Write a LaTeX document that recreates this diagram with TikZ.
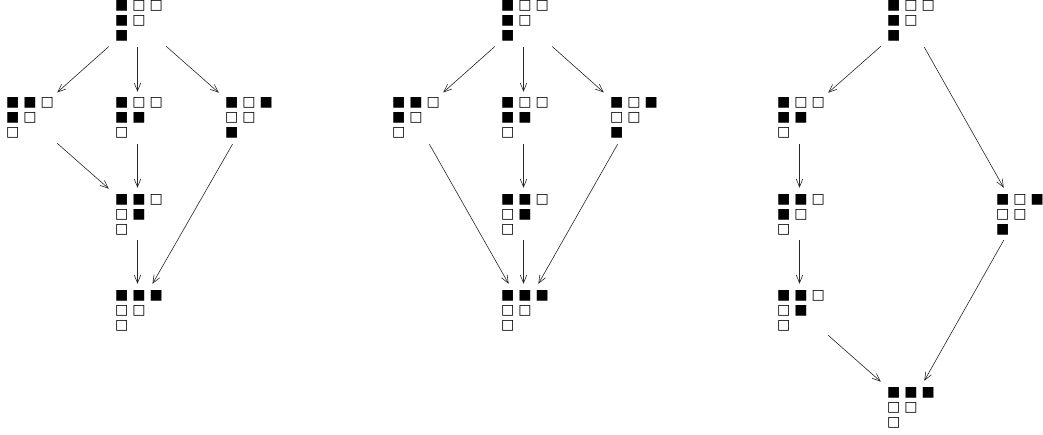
\documentclass[tikz,border=0pt]{standalone}
\usepackage{fontspec}
\newfontfamily\symfont{DejaVu Sans}
\usetikzlibrary{arrows.meta}

% one cell of a tableau, 1 = filled
\newcommand{\sq}[1]{\makebox[17.3pt][l]{\ifnum#1=1 ■\else □\fi}}
% a staircase tableau, rows of 3, 2 and 1 cells
\newcommand{\tabl}[6]{\parbox[c][40pt][t]{45pt}{\symfont\fontsize{14pt}{15pt}\selectfont
  \sq{#1}\sq{#2}\sq{#3}\\\sq{#4}\sq{#5}\\\sq{#6}}}

\tikzset{
  tab/.style={inner sep=0pt, minimum width=57pt, minimum height=52pt},
  cover/.style={line width=0.6pt, black!85, -{Straight Barb[length=8pt,width=6.5pt]}}
}

\begin{document}
\begin{tikzpicture}[x=1pt,y=1pt]
\useasboundingbox (0,0) rectangle (1043,-434);
%%%%%%%%%%%%%%%%%%%
% first poset

\node[tab] (a1) at (137.5,-21) {\tabl{1}{0}{0}{1}{0}{1}};
\node[tab] (a2) at (28.5,-118) {\tabl{1}{1}{0}{1}{0}{0}};
\node[tab] (a3) at (137.5,-118) {\tabl{1}{0}{0}{1}{1}{0}};
\node[tab] (a4) at (247.5,-118) {\tabl{1}{0}{1}{0}{0}{1}};
\node[tab] (a5) at (137.5,-214) {\tabl{1}{1}{0}{0}{1}{0}};
\node[tab] (a6) at (137.5,-310) {\tabl{1}{1}{1}{0}{0}{0}};

\draw[cover] (a1) -- (a2);
\draw[cover] (a1) -- (a3);
\draw[cover] (a1) -- (a4);
\draw[cover] (a2) -- (a5);
\draw[cover] (a3) -- (a5);
\draw[cover] (a5) -- (a6);
\draw[cover] (a4) -- (a6);

%%%%%%%%%%%%%%%%%%%
% second poset

\node[tab] (b1) at (523.5,-21) {\tabl{1}{0}{0}{1}{0}{1}};
\node[tab] (b2) at (414.5,-118) {\tabl{1}{1}{0}{1}{0}{0}};
\node[tab] (b3) at (523.5,-118) {\tabl{1}{0}{0}{1}{1}{0}};
\node[tab] (b4) at (632.5,-118) {\tabl{1}{0}{1}{0}{0}{1}};
\node[tab] (b5) at (523.5,-214) {\tabl{1}{1}{0}{0}{1}{0}};
\node[tab] (b6) at (523.5,-310) {\tabl{1}{1}{1}{0}{0}{0}};

\draw[cover] (b1) -- (b2);
\draw[cover] (b1) -- (b3);
\draw[cover] (b1) -- (b4);
\draw[cover] (b2) -- (b6);
\draw[cover] (b3) -- (b5);
\draw[cover] (b5) -- (b6);
\draw[cover] (b4) -- (b6);

%%%%%%%%%%%%%%%%%%%
% third poset

\node[tab] (c1) at (909.5,-21) {\tabl{1}{0}{0}{1}{0}{1}};
\node[tab] (c2) at (799.5,-118) {\tabl{1}{0}{0}{1}{1}{0}};
\node[tab] (c3) at (799.5,-214) {\tabl{1}{1}{0}{1}{0}{0}};
\node[tab] (c4) at (799.5,-310) {\tabl{1}{1}{0}{0}{1}{0}};
\node[tab] (c5) at (1018.5,-214) {\tabl{1}{0}{1}{0}{0}{1}};
\node[tab] (c6) at (909.5,-407) {\tabl{1}{1}{1}{0}{0}{0}};

\draw[cover] (c1) -- (c2);
\draw[cover] (c2) -- (c3);
\draw[cover] (c3) -- (c4);
\draw[cover] (c4) -- (c6);
\draw[cover] (c1) -- (c5);
\draw[cover] (c5) -- (c6);

\end{tikzpicture}
\end{document}
